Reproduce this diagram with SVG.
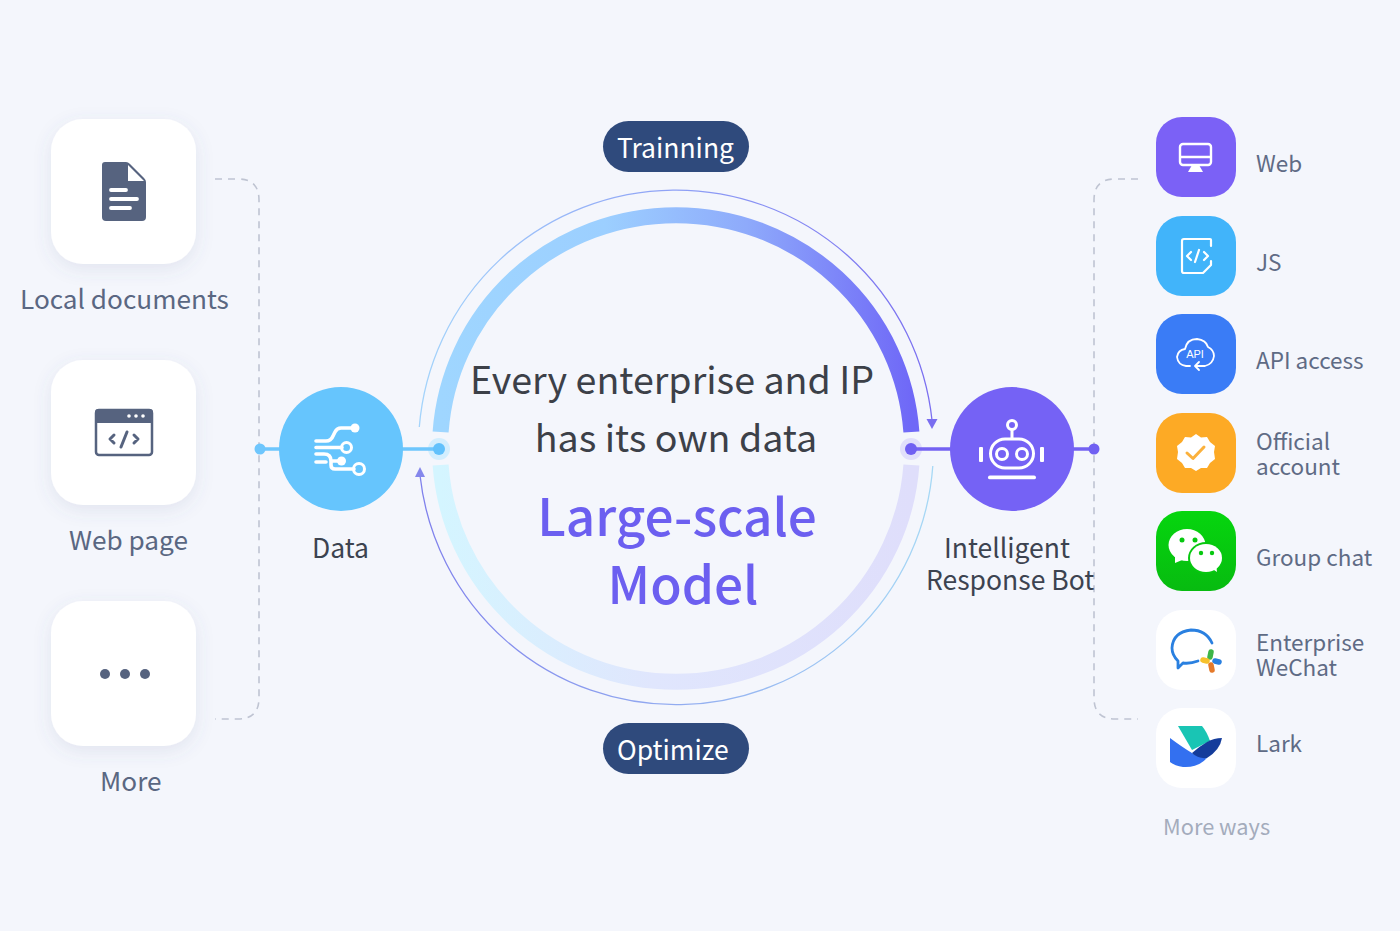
<svg xmlns="http://www.w3.org/2000/svg" width="1400" height="931" viewBox="0 0 1400 931">
<defs>
<style>
text{font-family:"Noto Sans CJK SC","Noto Sans",sans-serif}
.lbl{font-size:26.2px;fill:#5a6782}
.dark{font-size:26.500px;fill:#3c4350}
.side{font-size:22.500px;fill:#5f6b85}
.head{font-size:37.600px;fill:#3c4048;text-anchor:middle}
.big{font-size:51.300px;font-weight:500;fill:#6c5ff0;text-anchor:middle}
.pill{font-size:26.500px;fill:#fff}
.card{fill:#fff;filter:url(#sh)}
.ink{fill:#56637f}
.wl{fill:none;stroke:#fff;stroke-linecap:round;stroke-linejoin:round}
.wf{fill:#fff}
.dash{fill:none;stroke:#bfc4d2;stroke-width:1.6;stroke-dasharray:7 6}
</style>
<filter id="sh" x="-30%" y="-30%" width="160%" height="160%"><feDropShadow dx="0" dy="5" stdDeviation="9" flood-color="#5a6a90" flood-opacity=".12"/></filter>
<linearGradient id="up" gradientUnits="userSpaceOnUse" x1="440" y1="0" x2="912" y2="0"><stop offset="0" stop-color="#9fd6ff"/><stop offset=".35" stop-color="#9ccfff"/><stop offset=".65" stop-color="#8eaafb"/><stop offset="1" stop-color="#6f68f7"/></linearGradient>
<linearGradient id="low" gradientUnits="userSpaceOnUse" x1="440" y1="0" x2="912" y2="0"><stop offset="0" stop-color="#d4f5ff"/><stop offset=".45" stop-color="#e0e6fd"/><stop offset="1" stop-color="#dfdefb"/></linearGradient>
<linearGradient id="tu" gradientUnits="userSpaceOnUse" x1="419" y1="0" x2="932" y2="0"><stop offset="0" stop-color="#a4d4fb"/><stop offset="1" stop-color="#7a6ef0"/></linearGradient>
<linearGradient id="tl" gradientUnits="userSpaceOnUse" x1="419" y1="0" x2="932" y2="0"><stop offset="0" stop-color="#7f80ec"/><stop offset="1" stop-color="#a6d8f5"/></linearGradient>
<linearGradient id="wc" x1="0" y1="0" x2="0" y2="1"><stop offset="0" stop-color="#06d60e"/><stop offset="1" stop-color="#07bb10"/></linearGradient>
</defs>
<rect width="1400" height="931" fill="#f4f6fc"/>

<g id="connectors">
<path class="dash" d="M215 179H238Q259 179 259 200V698Q259 719 238 719H215"/>
<path class="dash" d="M1138 179H1115Q1094 179 1094 200V698Q1094 719 1115 719H1138"/>
<path d="M440.600 432A236 233.500 0 0 1 911.400 432" fill="none" stroke="url(#up)" stroke-width="16"/>
<path d="M440.600 465A236 233.500 0 0 0 911.400 465" fill="none" stroke="url(#low)" stroke-width="16"/>
<path d="M419.300 427A257.500 257.500 0 0 1 932.100 421" fill="none" stroke="url(#tu)" stroke-width="1.300"/>
<path d="M932.800 466A257.500 257.500 0 0 1 420.100 476" fill="none" stroke="url(#tl)" stroke-width="1.300"/>
<path d="M926.500 419H937.500L932 429Z" fill="#7a6ef0"/>
<path d="M415 477H425L420 467Z" fill="#8487ec"/>
<circle cx="439" cy="449" r="11" fill="#d3eefe"/>
<circle cx="911" cy="449" r="11" fill="#e1dffb"/>
<path d="M260 449H440" stroke="#6ec6fd" stroke-width="3.500" fill="none"/>
<path d="M911 449H1094" stroke="#7462f2" stroke-width="3.500" fill="none"/>
<circle cx="260" cy="449" r="5.500" fill="#6ec6fd"/>
<circle cx="439" cy="449" r="6" fill="#62c1fc"/>
<circle cx="911" cy="449" r="6" fill="#7060f2"/>
<circle cx="1094" cy="449" r="5.500" fill="#7060f2"/>
</g>

<g id="node-local-documents">
<rect class="card" x="51" y="119" width="145" height="145" rx="32"/>
<path class="ink" d="M105 162H126Q128 162 130 164L144 178Q146 180 146 182V217a4 4 0 0 1-4 4H106a4 4 0 0 1-4-4V165a3 3 0 0 1 3-3Z"/>
<path class="wf" d="M128 165L144 181H128Z"/>
<path class="wl" d="M111 190H126M111 199H137M111 208H130" stroke-width="3.800"/>
<text class="lbl" x="20" y="309">Local documents</text>
</g>

<g id="node-web-page">
<rect class="card" x="51" y="360" width="145" height="145" rx="32"/>
<rect x="96" y="410" width="56" height="45" rx="3" fill="#fff" stroke="#56637f" stroke-width="2.500"/>
<path class="ink" d="M98 409H150a3 3 0 0 1 3 3V423H95V412a3 3 0 0 1 3-3Z"/>
<circle class="wf" cx="129" cy="416" r="1.800"/><circle class="wf" cx="136" cy="416" r="1.800"/><circle class="wf" cx="143" cy="416" r="1.800"/>
<path d="M114 435L110 439L114 443M134 435L138 439L134 443M127 432L121 447" fill="none" stroke="#56637f" stroke-width="3" stroke-linecap="round" stroke-linejoin="round"/>
<text class="lbl" x="69" y="550">Web page</text>
</g>

<g id="node-more">
<rect class="card" x="51" y="601" width="145" height="145" rx="32"/>
<circle class="ink" cx="105" cy="674" r="5"/><circle class="ink" cx="125" cy="674" r="5"/><circle class="ink" cx="145" cy="674" r="5"/>
<text class="lbl" x="100" y="791">More</text>
</g>

<g id="node-data">
<circle cx="341" cy="449" r="62" fill="#66c5fd"/>
<path class="wl" d="M316 441H326Q331 441 333 436L335 432Q337 428 341 428H354M316 447.500H342M316 454H324Q331 454 331 461V465Q331 469 335 469H354M316 462H326M331 461H340" stroke-width="3.600"/>
<circle class="wf" cx="355" cy="428" r="4.500"/>
<circle cx="346.500" cy="447.500" r="5" fill="none" stroke="#fff" stroke-width="3"/>
<circle class="wf" cx="341.500" cy="461" r="4.500"/>
<circle cx="359" cy="469" r="5.500" fill="none" stroke="#fff" stroke-width="3"/>
<text class="dark" x="312" y="557.500">Data</text>
</g>

<g id="node-model">
<text class="head" x="672" y="394">Every enterprise and IP</text>
<text class="head" x="676" y="452">has its own data</text>
<text class="big" x="677" y="535.500">Large-scale</text>
<text class="big" x="683" y="604">Model</text>
</g>

<g id="node-trainning">
<rect x="603" y="121" width="146" height="51" rx="25.500" fill="#2f4a7c"/>
<text class="pill" x="617" y="158">Trainning</text>
</g>
<g id="node-optimize">
<rect x="603" y="723" width="146" height="51" rx="25.500" fill="#2f4a7c"/>
<text class="pill" x="617" y="760">Optimize</text>
</g>

<g id="node-bot">
<circle cx="1012" cy="449" r="62" fill="#7562f5"/>
<circle cx="1012" cy="425" r="4.500" fill="none" stroke="#fff" stroke-width="3"/>
<path class="wl" d="M1012 430V438" stroke-width="3"/>
<rect x="990.500" y="439" width="43" height="29" rx="14.500" fill="none" stroke="#fff" stroke-width="3"/>
<circle cx="1002" cy="454" r="5.500" fill="none" stroke="#fff" stroke-width="3"/>
<circle cx="1022" cy="454" r="5.500" fill="none" stroke="#fff" stroke-width="3"/>
<rect class="wf" x="979" y="447" width="4" height="15" rx="1"/>
<rect class="wf" x="1040" y="447" width="4" height="15" rx="1"/>
<rect class="wf" x="988" y="475.500" width="48" height="3.800" rx="1.900"/>
<text class="dark" x="944" y="557.500">Intelligent</text>
<text class="dark" x="926" y="590">Response Bot</text>
</g>

<g id="node-web">
<rect x="1156" y="117" width="80" height="80" rx="26" fill="#7b61f6"/>
<rect x="1180" y="144" width="31" height="21" rx="3" fill="none" stroke="#fff" stroke-width="2.400"/>
<path class="wl" d="M1181 157H1210" stroke-width="2.400"/>
<path class="wf" d="M1192 165H1199L1203 172H1188Z"/>
<text class="side" x="1256" y="172">Web</text>
</g>
<g id="node-js">
<rect x="1156" y="216" width="80" height="80" rx="26" fill="#41b4fa"/>
<path class="wl" d="M1211 246V240Q1211 239 1210 239H1184Q1182 239 1182 241V271Q1182 273 1184 273H1203L1211 265V261" stroke-width="2.200"/>
<path class="wl" d="M1191 252L1187 256L1191 260M1204 252L1208 256L1204 260M1199 250L1195 262" stroke-width="2.200"/>
<text class="side" x="1256" y="271">JS</text>
</g>
<g id="node-api">
<rect x="1156" y="314" width="80" height="80" rx="26" fill="#3a7cf6"/>
<path class="wl" d="M1190 366H1186Q1178 365 1177 357Q1178 350 1185 349Q1187 339 1197 339Q1206 340 1208 347Q1214 350 1214 356Q1213 364 1205 366H1196M1199 362L1195 366L1199 370" stroke-width="1.800"/>
<text x="1195" y="358" font-size="11" fill="#fff" text-anchor="middle" style="font-family:'Liberation Sans',sans-serif">API</text>
<text class="side" x="1256" y="369">API access</text>
</g>
<g id="node-official">
<rect x="1156" y="413" width="80" height="80" rx="26" fill="#fdaa25"/>
<path class="wf" d="M1196 434L1201 437.500L1207 437L1210 442L1215 446L1214 452L1215 459L1210 463L1207 468L1201 468L1196 471L1191 468L1185 468L1182 463L1177 459L1178 452L1177 446L1182 442L1185 437L1191 437.500Z"/>
<path d="M1187 453L1193 458.500L1204 447" fill="none" stroke="#fbb13c" stroke-width="3" stroke-linecap="round" stroke-linejoin="round"/>
<text class="side" x="1256" y="449.500">Official</text>
<text class="side" x="1256" y="475">account</text>
</g>
<g id="node-group-chat">
<rect x="1156" y="511" width="80" height="80" rx="26" fill="url(#wc)"/>
<ellipse class="wf" cx="1187" cy="545" rx="18.500" ry="16"/>
<path class="wf" d="M1175 555L1175 563L1187 558Z"/>
<ellipse cx="1206" cy="558" rx="18" ry="16" fill="#06c80f"/>
<ellipse class="wf" cx="1206" cy="558" rx="16" ry="14"/>
<path class="wf" d="M1211 568L1217 572L1216 563Z"/>
<circle cx="1182" cy="540" r="2.500" fill="#06c80f"/><circle cx="1195" cy="540" r="2.500" fill="#06c80f"/>
<circle cx="1201" cy="553" r="2.200" fill="#06c80f"/><circle cx="1212" cy="553" r="2.200" fill="#06c80f"/>
<text class="side" x="1256" y="566">Group chat</text>
</g>
<g id="node-enterprise-wechat">
<rect x="1156" y="610" width="80" height="80" rx="26" fill="#fff"/>
<path d="M1198 661Q1190 664 1183 663L1178 668V661Q1172 655 1172 648Q1173 632 1191 630Q1206 630 1212 643" fill="none" stroke="#2a80e0" stroke-width="2.800" stroke-linecap="round" stroke-linejoin="round"/>
<g fill="none" stroke-width="5.500" stroke-linecap="round">
<path d="M1211 652L1210 657" stroke="#3db548"/>
<path d="M1219 662L1215 661" stroke="#2a80e0"/>
<path d="M1212 670L1211 665" stroke="#e57a2a"/>
<path d="M1203 660L1207 661" stroke="#f6c12c"/>
</g>
<text class="side" x="1256" y="650.500">Enterprise</text>
<text class="side" x="1256" y="676">WeChat</text>
</g>
<g id="node-lark">
<rect x="1156" y="708" width="80" height="80" rx="26" fill="#fff"/>
<path d="M1178 726H1202Q1207 732 1210 741L1192 750Z" fill="#19c5b4"/>
<path d="M1170 738Q1182 747 1192 753Q1203 759 1207 758Q1198 768 1183 767Q1175 766 1170 762Z" fill="#3370f0"/>
<path d="M1192 753Q1200 746 1207 742Q1214 738 1222 738Q1220 750 1207 758Q1198 759 1192 753Z" fill="#143c9b"/>
<text class="side" x="1256" y="752">Lark</text>
</g>
<text id="more-ways" x="1163" y="835" font-size="21.800" fill="#a4acbc">More ways</text>
</svg>
